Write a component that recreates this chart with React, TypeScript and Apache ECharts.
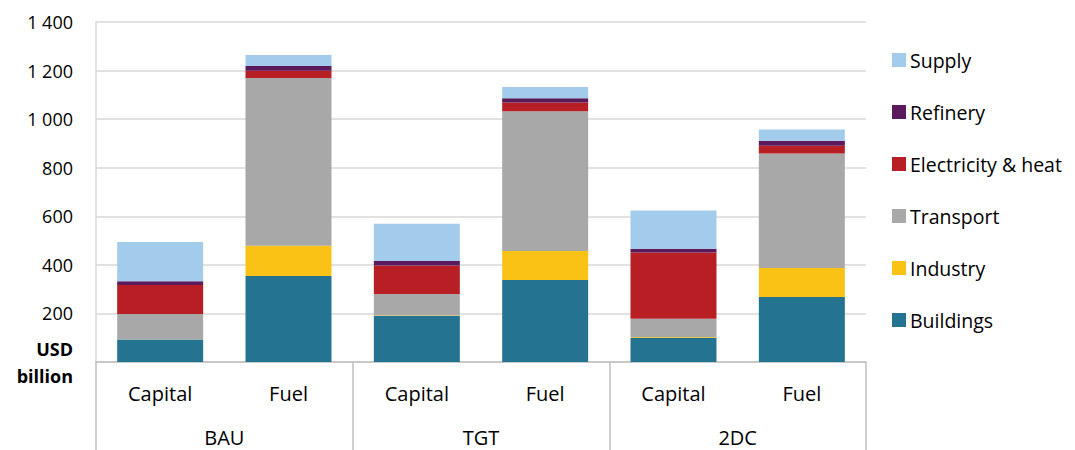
import React, { useEffect, useRef } from "react";
import * as echarts from "echarts";

const categories = ["Capital", "Fuel", "Capital", "Fuel", "Capital", "Fuel"];
const groups = ["BAU", "TGT", "2DC"];
const yTicks = [0, 200, 400, 600, 800, 1000, 1200, 1400];

const buildings = [93, 354, 190, 338, 100, 268];
const industry = [0, 125, 3, 119, 3, 119];
const transport = [105, 690, 87, 576, 75, 472];
const electricity = [119, 30, 117, 36, 273, 31];
const refinery = [16, 20, 19, 17, 15, 21];
const supply = [161, 45, 153, 46, 158, 46];

const seriesDefs = [
  { name: "Buildings", data: buildings, color: "#237391" },
  { name: "Industry", data: industry, color: "#FAC214" },
  { name: "Transport", data: transport, color: "#A8A8A8" },
  { name: "Electricity & heat", data: electricity, color: "#B81F24" },
  { name: "Refinery", data: refinery, color: "#5A1A5C" },
  { name: "Supply", data: supply, color: "#A3CBEB" },
];

const FONT = "'Open Sans', 'Noto Sans', sans-serif";

export default function App() {
  const ref = useRef<HTMLDivElement>(null);
  useEffect(() => {
    if (!ref.current) return;
    const chart = echarts.init(ref.current, undefined, { renderer: "svg" });
    const fmt = (v: number) => {
      if (v === 0) return "{b|USD}\n{b|billion}";
      const s = String(v);
      return s.length > 3 ? s.slice(0, s.length - 3) + " " + s.slice(-3) : s;
    };
    chart.setOption({
      animation: false,
      textStyle: { fontFamily: FONT },
      grid: { left: 96, right: 209, top: 22, bottom: 88, containLabel: false },
      legend: {
        orient: "vertical",
        left: 892,
        top: 50,
        padding: 0,
        itemWidth: 14,
        itemHeight: 14,
        itemGap: 32,
        icon: "rect",
        data: ["Supply", "Refinery", "Electricity & heat", "Transport", "Industry", "Buildings"],
        textStyle: { fontSize: 19.5, color: "#000", fontFamily: FONT, padding: [0, 0, 0, -1] },
      },
      xAxis: [
        {
          type: "category",
          data: categories,
          position: "bottom",
          axisLine: { show: true, lineStyle: { color: "#BFBFBF", width: 1.5 } },
          axisTick: { show: false },
          axisLabel: { color: "#000", fontSize: 20, margin: 21, fontFamily: FONT },
        },
        {
          type: "category",
          data: groups,
          position: "bottom",
          axisLine: { show: false },
          axisTick: { show: true, length: 90, lineStyle: { color: "#BFBFBF", width: 1.5 } },
          axisLabel: { color: "#000", fontSize: 20, margin: 65, fontFamily: FONT },
        },
      ],
      yAxis: {
        type: "value",
        min: yTicks[0],
        max: yTicks[yTicks.length - 1],
        interval: 200,
        axisLine: { show: true, lineStyle: { color: "#D9D9D9", width: 1.5 } },
        axisTick: { show: false },
        splitLine: { show: true, lineStyle: { color: "#D9D9D9", width: 1.5 } },
        axisLabel: {
          color: "#000",
          fontSize: 18,
          margin: 23,
          fontFamily: FONT,
          formatter: fmt,
          rich: {
            b: { fontWeight: "bold", fontSize: 18, lineHeight: 27, color: "#000", fontFamily: FONT, align: "right" },
          },
        },
      },
      series: seriesDefs.map((s) => ({
        name: s.name,
        type: "bar",
        stack: "total",
        xAxisIndex: 0,
        data: s.data,
        barCategoryGap: "33%",
        itemStyle: { color: s.color },
      })),
    });
    return () => chart.dispose();
  }, []);
  return (
    <div
      ref={ref}
      style={{ position: "fixed", left: 0, top: 0, width: 1075, height: 450, background: "#fff" }}
    />
  );
}
